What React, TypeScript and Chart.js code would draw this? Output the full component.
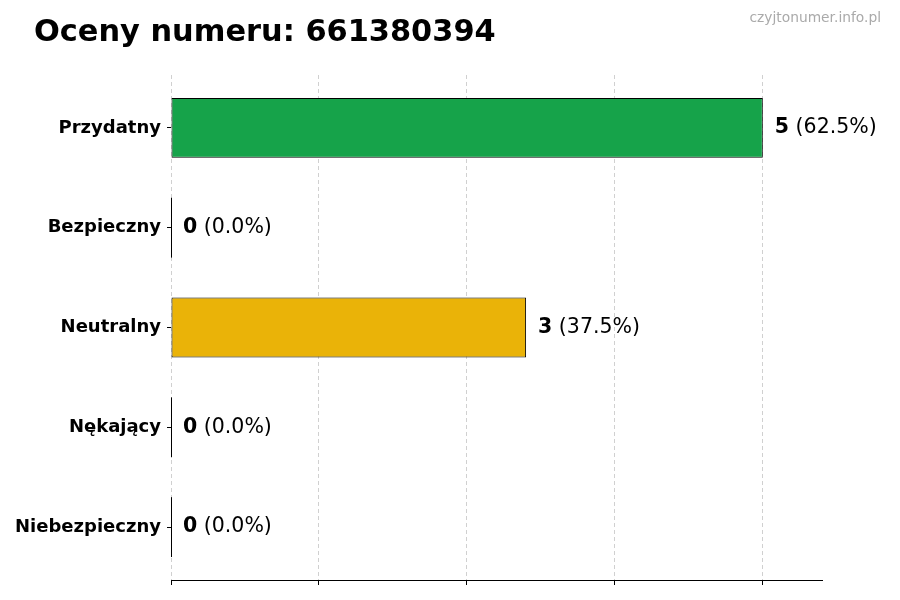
import { Chart, registerables } from "chart.js";
import { useEffect, useRef } from "react";

Chart.register(...registerables);

const categories = ["Przydatny", "Bezpieczny", "Neutralny", "Nękający", "Niebezpieczny"];
const counts = [5, 0, 3, 0, 0];
const barColors = ["#16a34a", "#2563eb", "#eab308", "#f97316", "#dc2626"];
const xTicks = [0, 1.25, 2.5, 3.75, 5];
const xMax = 5.5;

const FONT = "'DejaVu Sans', sans-serif";

const labelsPlugin = {
  id: "barLabels",
  afterDatasetsDraw(chart: any) {
    const ctx = chart.ctx;
    const meta = chart.getDatasetMeta(0);
    const total = counts.reduce((a, b) => a + b, 0);
    ctx.save();
    meta.data.forEach((bar: any, i: number) => {
      const v = counts[i];
      if (v === 0) {
        ctx.strokeStyle = "#000";
        ctx.lineWidth = 1;
        ctx.beginPath();
        ctx.moveTo(Math.round(bar.x) + 0.5, bar.y - bar.height / 2);
        ctx.lineTo(Math.round(bar.x) + 0.5, bar.y + bar.height / 2);
        ctx.stroke();
      }
      const pct = total ? ((v / total) * 100).toFixed(1) : "0.0";
      const x = bar.x + 12;
      ctx.textBaseline = "middle";
      ctx.textAlign = "left";
      ctx.fillStyle = "#000";
      ctx.font = `bold 20.5px ${FONT}`;
      const bold = String(v);
      ctx.fillText(bold, x, bar.y);
      const w = ctx.measureText(bold).width;
      ctx.font = `20.5px ${FONT}`;
      ctx.fillText(` (${pct}%)`, x + w, bar.y);
    });
    ctx.restore();
  },
  afterDraw(chart: any) {
    const ctx = chart.ctx;
    ctx.save();
    ctx.fillStyle = "#000";
    ctx.textBaseline = "alphabetic";
    ctx.textAlign = "left";
    ctx.font = `bold 30.4px ${FONT}`;
    ctx.fillText("Oceny numeru: 661380394", 34, 41);
    ctx.fillStyle = "#aaaaaa";
    ctx.textAlign = "right";
    ctx.font = `13.8px ${FONT}`;
    ctx.fillText("czyjtonumer.info.pl", 881, 22);
    ctx.restore();
  },
};

function RatingsChart() {
  const canvasRef = useRef<HTMLCanvasElement | null>(null);
  useEffect(() => {
    const ctx = canvasRef.current?.getContext("2d");
    if (!ctx) return;
    const chart = new Chart(ctx, {
      type: "bar",
      data: {
        datasets: [
          {
            data: counts.map((v, i) => ({ x: v, y: i })),
            backgroundColor: barColors,
            borderColor: "#000",
            borderWidth: 1,
            borderSkipped: false,
            categoryPercentage: 1,
            barPercentage: 0.6,
          },
        ],
      },
      options: {
        indexAxis: "y",
        animation: false,
        responsive: false,
        devicePixelRatio: 1,
        layout: { padding: { top: 75, right: 78, left: 0, bottom: 0 } },
        plugins: {
          legend: { display: false },
          tooltip: { enabled: false },
        },
        scales: {
          x: {
            type: "linear",
            min: 0,
            max: xMax,
            z: 1,
            afterBuildTicks: (scale: any) => {
              scale.ticks = xTicks.map((value) => ({ value }));
            },
            afterFit: (scale: any) => {
              scale.height = 20;
            },
            ticks: { display: false },
            grid: {
              color: "rgba(170,170,170,0.55)",
              lineWidth: 1,
              tickLength: 5,
              tickColor: "#000",
              tickWidth: 1,
            },
            border: { display: true, color: "#000", width: 1, dash: [4, 3] },
          },
          y: {
            type: "linear",
            reverse: true,
            offset: false,
            min: -0.53,
            max: categories.length - 1 + 0.53,
            afterBuildTicks: (scale: any) => {
              scale.ticks = categories.map((_, i) => ({ value: i }));
            },
            afterFit: (scale: any) => {
              scale.width = 171;
            },
            ticks: {
              color: "#000",
              padding: 6,
              font: { family: FONT, size: 18, weight: "bold" },
              callback: (value: any) => categories[value] ?? "",
            },
            grid: {
              offset: false,
              drawOnChartArea: false,
              tickLength: 4,
              tickColor: "#000",
              tickWidth: 1,
            },
            border: { display: false },
          },
        },
      },
      plugins: [labelsPlugin],
    });
    return () => chart.destroy();
  }, []);

  return (
    <div style={{ position: "fixed", left: 0, top: 0, width: 900, height: 600, background: "#fff" }}>
      <canvas ref={canvasRef} width={900} height={600}></canvas>
    </div>
  );
}

export default function App() {
  return <RatingsChart />;
}
